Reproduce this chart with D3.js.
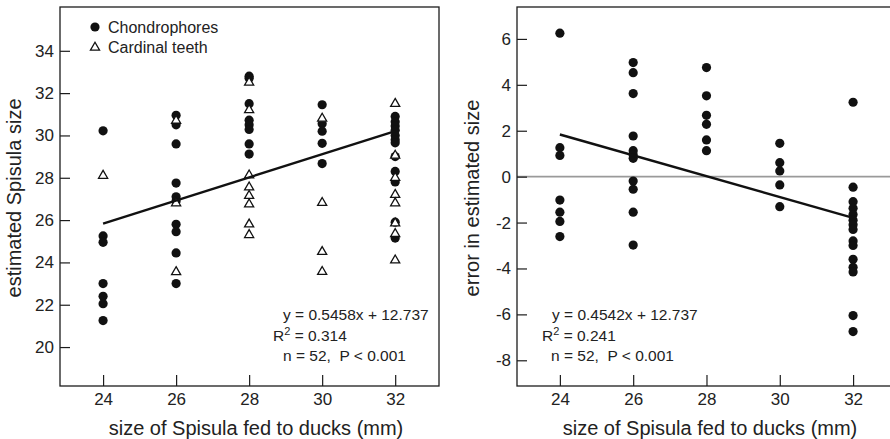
<!DOCTYPE html>
<html>
<head>
<meta charset="utf-8">
<script src="https://cdn.jsdelivr.net/npm/d3@7"></script>
<style>
  html, body { margin: 0; padding: 0; background: #fff; }
  svg { display: block; font-family: "Liberation Sans", Arial, Helvetica, sans-serif; }
  .stat { white-space: pre; }
</style>
</head>
<body>
<svg id="chart" width="890" height="439"></svg>
<script>
// ---------- data ----------
const sizes = [24, 26, 28, 30, 32];
const xTicks = [24, 26, 28, 30, 32];
const leftYTicks = [20, 22, 24, 26, 28, 30, 32, 34];
const rightYTicks = [-8, -6, -4, -2, 0, 2, 4, 6];

// estimated Spisula size, chondrophores (one list per size fed)
const chondrophores = [
  [30.22, 25.25, 24.95, 23.0, 22.4, 22.05, 21.25],
  [30.95, 30.5, 29.6, 27.75, 27.1, 26.9, 25.8, 25.45, 24.45, 23.0],
  [32.8, 32.7, 31.5, 30.72, 30.5, 30.28, 29.6, 29.12],
  [31.45, 30.55, 30.2, 29.63, 28.67],
  [30.9, 30.65, 30.45, 30.25, 30.0, 29.8, 29.65, 29.0, 28.3, 27.8, 25.9, 25.15]
];
// estimated Spisula size, cardinal teeth
const cardinalTeeth = [
  [28.1],
  [30.7, 26.8, 23.55],
  [32.5, 31.2, 28.12, 27.55, 27.15, 26.75, 25.8, 25.3],
  [30.8, 26.82, 24.5, 23.56],
  [31.5, 29.05, 28.0, 27.2, 26.8, 25.85, 25.35, 24.1]
];
// error in estimated size
const errors = [
  [6.25, 1.26, 0.92, -1.02, -1.55, -1.95, -2.61],
  [4.97, 4.53, 3.62, 1.77, 1.13, 0.95, 0.8, -0.19, -0.55, -1.55, -2.98],
  [4.75, 3.52, 2.67, 2.28, 1.6, 1.13],
  [1.45, 0.61, 0.25, -0.36, -1.31],
  [3.24, -0.46, -1.09, -1.38, -1.65, -1.9, -2.1, -2.3, -2.8, -3.0, -3.6, -3.95, -4.15, -6.05, -6.75]
];
const leftFit = [0.5458, 12.737];
const rightFit = [-0.4542, 12.737];
const leftStats = ["y = 0.5458x + 12.737", "0.314", "n = 52,  P < 0.001"];
const rightStats = ["y = 0.4542x + 12.737", "0.241", "n = 52,  P < 0.001"];
const legendLabels = ["Chondrophores", "Cardinal teeth"];
const xTitle = "size of Spisula fed to ducks (mm)";
const leftYTitle = "estimated Spisula size";
const rightYTitle = "error in estimated size";

// ---------- drawing ----------
const svg = d3.select("#chart");
const ink = "#1c1c1c";
const TXT = "#222";

function flatten(groups) {
  const out = [];
  groups.forEach((g, i) => g.forEach(v => out.push({x: sizes[i], y: v})));
  return out;
}

function panel(opts) {
  const g = svg.append("g");
  const x = d3.scaleLinear().domain(opts.xDomain).range(opts.xRange);
  const y = d3.scaleLinear().domain(opts.yDomain).range([386, 7]);

  if (opts.zeroLine) {
    g.append("line")
      .attr("x1", opts.xRange[0]).attr("x2", opts.xRange[1])
      .attr("y1", y(0)).attr("y2", y(0))
      .attr("stroke", "#9a9a9a").attr("stroke-width", 1.6);
  }

  const fmt = d => String(d);
  const ax = g.append("g").attr("transform", `translate(0,386)`)
    .call(d3.axisBottom(x).tickValues(xTicks).tickSize(-11).tickPadding(7).tickFormat(fmt));
  const ay = g.append("g").attr("transform", `translate(${opts.xRange[0]},0)`)
    .call(d3.axisLeft(y).tickValues(opts.yTicks).tickSize(-10).tickPadding(6).tickFormat(fmt));
  [ax, ay].forEach(a => {
    a.select(".domain").remove();
    a.selectAll(".tick line").attr("stroke", ink).attr("stroke-width", 1.2);
    a.selectAll(".tick text").attr("fill", TXT).style("font-size", "17px");
  });

  g.append("rect")
    .attr("x", opts.xRange[0]).attr("y", 7)
    .attr("width", opts.xRange[1] - opts.xRange[0]).attr("height", 379)
    .attr("fill", "none").attr("stroke", ink).attr("stroke-width", 1.3);

  g.selectAll("circle.pt").data(flatten(opts.circles)).enter().append("circle")
    .attr("class", "pt")
    .attr("cx", d => x(d.x)).attr("cy", d => y(d.y)).attr("r", 4.6)
    .attr("fill", "#111");
  if (opts.triangles) {
    const tri = d3.symbol().type(d3.symbolTriangle).size(36);
    g.selectAll("path.tri").data(flatten(opts.triangles)).enter().append("path")
      .attr("class", "tri")
      .attr("d", tri)
      .attr("transform", d => `translate(${x(d.x)},${y(d.y)})`)
      .attr("fill", "#fff").attr("stroke", "#111").attr("stroke-width", 1.3);
  }

  const f = opts.fit;
  g.append("line")
    .attr("x1", x(24)).attr("y1", y(f[0] * 24 + f[1]))
    .attr("x2", x(32)).attr("y2", y(f[0] * 32 + f[1]))
    .attr("stroke", "#111").attr("stroke-width", 2.4);

  const st = opts.stats, sp = opts.statPos;
  const t = g.append("g").attr("fill", TXT).style("font-size", "15.5px");
  t.append("text").attr("class", "stat").attr("x", sp[0]).attr("y", 320).text(st[0]);
  const r2 = t.append("text").attr("class", "stat").attr("x", sp[1]).attr("y", 341);
  r2.append("tspan").text("R");
  r2.append("tspan").attr("dy", -6).style("font-size", "11px").text("2");
  r2.append("tspan").attr("dy", 6).text(" = " + st[1]);
  t.append("text").attr("class", "stat").attr("x", sp[2]).attr("y", 361).text(st[2]);

  g.append("text").attr("x", opts.xTitleX).attr("y", 435)
    .attr("text-anchor", "middle").attr("fill", TXT).style("font-size", "20px").text(xTitle);
  g.append("text")
    .attr("transform", `translate(${opts.yTitleX},198) rotate(-90)`)
    .attr("text-anchor", "middle").attr("fill", TXT).style("font-size", "20px").text(opts.yTitle);
  return {g, x, y};
}

panel({
  xDomain: [22.82, 33.2], xRange: [60, 439],
  yDomain: [18.16, 36.07], yTicks: leftYTicks,
  circles: chondrophores, triangles: cardinalTeeth,
  fit: leftFit, stats: leftStats, statPos: [283, 273, 283],
  xTitleX: 256, yTitle: leftYTitle, yTitleX: 21
});

panel({
  xDomain: [22.83, 33.28], xRange: [517, 900],
  yDomain: [-9.12, 7.39], yTicks: rightYTicks,
  circles: errors, zeroLine: true,
  fit: rightFit, stats: rightStats, statPos: [552, 542, 551],
  xTitleX: 710, yTitle: rightYTitle, yTitleX: 479
});

// legend
const lg = svg.append("g");
lg.append("circle").attr("cx", 95).attr("cy", 27).attr("r", 4.6).attr("fill", "#111");
lg.append("path").attr("d", d3.symbol().type(d3.symbolTriangle).size(36))
  .attr("transform", "translate(95,47.5)")
  .attr("fill", "#fff").attr("stroke", "#111").attr("stroke-width", 1.3);
lg.selectAll("text").data(legendLabels).enter().append("text")
  .attr("x", 108).attr("y", (d, i) => 32.5 + i * 20.5)
  .attr("fill", TXT).style("font-size", "16px").text(d => d);
</script>
</body>
</html>
